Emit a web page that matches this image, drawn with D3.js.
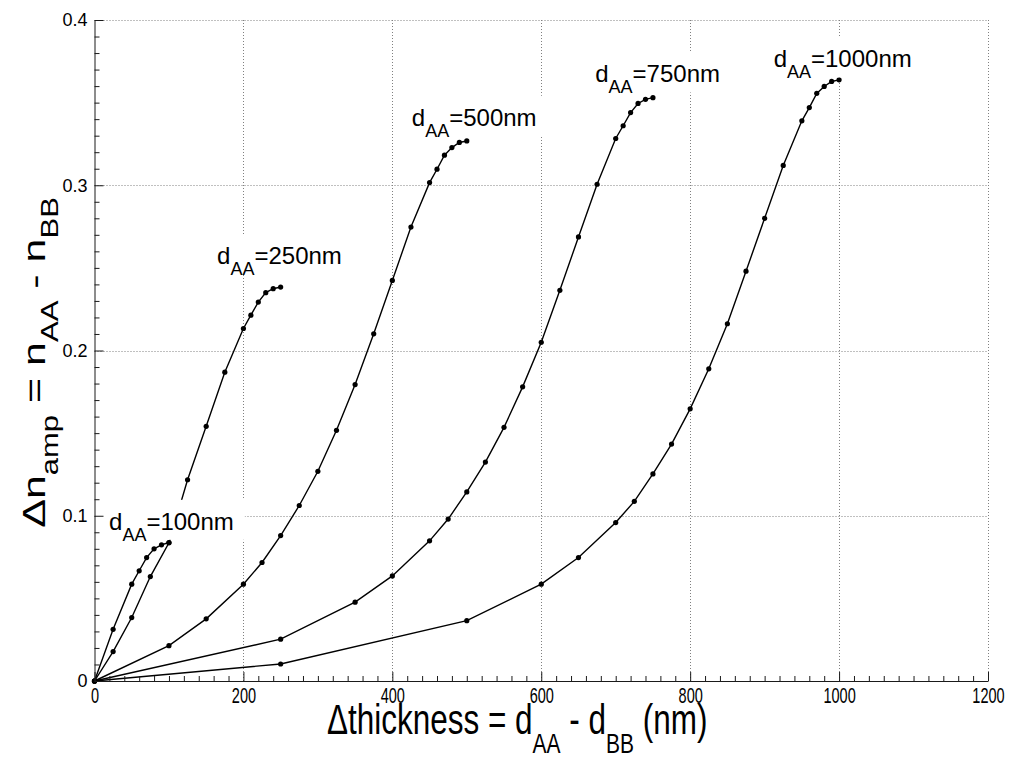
<!DOCTYPE html>
<html><head><meta charset="utf-8">
<script src="https://cdn.jsdelivr.net/npm/d3@7"></script>
<style>
body{margin:0;background:#fff}
svg{display:block}
text{font-family:"Liberation Sans",Arial,Helvetica,sans-serif;fill:#000}
</style></head>
<body><svg id="chart" width="1013" height="760"></svg>
<script>
// ---- data (Δthickness in nm, Δn_amp) ----
const thick100 = [0,25,50,60,70,80,90,100];
const dn100    = [0,0.0313,0.0586,0.0667,0.0747,0.0800,0.0824,0.0838];
const thick250 = [0,25,50,75,100,125,150,175,200,210,220,230,240,250];
const dn250    = [0,0.0178,0.0384,0.0632,0.0836,0.1218,0.1541,0.1869,0.2133,0.2214,0.2293,0.2350,0.2374,0.2384];
const thick500 = [0,100,150,200,225,250,275,300,325,350,375,400,425,450,460,470,480,490,500];
const dn500    = [0,0.0214,0.0376,0.0586,0.0717,0.0880,0.1062,0.1269,0.1517,0.1794,0.2101,0.2424,0.2747,0.3016,0.3097,0.3182,0.3228,0.3259,0.3268];
const thick750 = [0,250,350,400,450,475,500,525,550,575,600,625,650,675,700,710,720,730,740,750];
const dn750    = [0,0.0253,0.0477,0.0636,0.0848,0.0980,0.1144,0.1325,0.1535,0.1780,0.2050,0.2364,0.2687,0.3006,0.3283,0.3360,0.3440,0.3495,0.3520,0.3530];
const thick1000= [0,250,500,600,650,700,725,750,775,800,825,850,875,900,925,950,960,970,980,990,1000];
const dn1000   = [0,0.0103,0.0365,0.0586,0.0747,0.0959,0.1087,0.1253,0.1434,0.1647,0.1889,0.2162,0.2480,0.2800,0.3120,0.3390,0.3470,0.3556,0.3598,0.3628,0.3638];

const seriesNames = ["100","250","500","750","1000"];
// label anchors in data units (left of "d", baseline)
const labelAtX = [19.5, 164.6, 426.2, 672.5, 912.1];
const labelAtY = [0.0915, 0.2521, 0.336, 0.3622, 0.3713];

const xMajorTicks = [0,200,400,600,800,1000,1200];
const yMajorTicks = [0,0.1,0.2,0.3,0.4];
const yTickLabels = ["0","0.1","0.2","0.3","0.4"];

// ---- layout ----
const svg = d3.select("#chart");
const x = d3.scaleLinear().domain([0,1200]).range([94.5,988]);
const y = d3.scaleLinear().domain([0,0.4]).range([681,20]);

const series = [
  {name:seriesNames[0], xs:thick100, ys:dn100},
  {name:seriesNames[1], xs:thick250, ys:dn250},
  {name:seriesNames[2], xs:thick500, ys:dn500},
  {name:seriesNames[3], xs:thick750, ys:dn750},
  {name:seriesNames[4], xs:thick1000, ys:dn1000}
].map(s => ({name:s.name, pts:s.xs.map((v,i)=>[v,s.ys[i]])}));

// grid
const grid = svg.append("g").attr("stroke","#808080").attr("stroke-width",1).attr("stroke-dasharray","1,2");
grid.selectAll("line.v").data(xMajorTicks.slice(1)).join("line")
  .attr("x1",d=>Math.round(x(d))+0.5).attr("x2",d=>Math.round(x(d))+0.5)
  .attr("y1",y(0)).attr("y2",y(0.4));
grid.selectAll("line.h").data(yMajorTicks.slice(1)).join("line")
  .attr("y1",d=>Math.round(y(d))+0.5).attr("y2",d=>Math.round(y(d))+0.5)
  .attr("x1",x(0)).attr("x2",x(1200));

// curves
const line = d3.line().x(d=>x(d[0])).y(d=>y(d[1]));
const cg = svg.append("g");
series.forEach(s=>{
  cg.append("path").attr("d",line(s.pts)).attr("fill","none")
    .attr("stroke","#000").attr("stroke-width",1.4);
  cg.selectAll(null).data(s.pts).join("circle")
    .attr("cx",d=>x(d[0])).attr("cy",d=>y(d[1])).attr("r",2.6).attr("fill","#000");
});

// labels with white background
const lg = svg.append("g");
seriesNames.forEach((n,i)=>{
  const g = lg.append("g");
  const rect = g.append("rect").attr("fill","#fff");
  const t = g.append("text").attr("x",x(labelAtX[i])).attr("y",y(labelAtY[i]))
    .style("font-size","24px");
  t.append("tspan").text("d");
  t.append("tspan").attr("dy",11).style("font-size","18px").text("AA");
  t.append("tspan").attr("dy",-11).text("=" + n + "nm");
  const bb = t.node().getBBox();
  rect.attr("x",bb.x-13).attr("width",bb.width+24)
      .attr("y",y(labelAtY[i])-30).attr("height",40);
});

// axes
const axisColor = "#1a1a1a";
const xMinor = d3.range(0,1201,20).filter(v=>v%200!==0);
const yMinor = d3.range(1,40).map(v=>v/100).filter((v,i)=>(i+1)%10!==0);

const xAx = svg.append("g").attr("transform",`translate(0,${y(0)})`)
  .call(d3.axisBottom(x).tickValues(xMajorTicks).tickSizeInner(-9).tickSizeOuter(0).tickPadding(6).tickFormat(d3.format("d")));
xAx.append("g").call(d3.axisBottom(x).tickValues(xMinor).tickSizeInner(-5).tickSizeOuter(0).tickFormat(""))
  .select(".domain").remove();
xAx.selectAll(".tick text").filter(function(){return this.textContent!=="";})
  .style("font-size","22px").style("font-family","Liberation Sans, Arial, sans-serif")
  .attr("transform","scale(0.66,1)");

const yAx = svg.append("g").attr("transform",`translate(${x(0)},0)`)
  .call(d3.axisLeft(y).tickValues(yMajorTicks).tickSizeInner(-9).tickSizeOuter(0).tickPadding(7)
    .tickFormat((d,i)=>yTickLabels[i]));
yAx.append("g").call(d3.axisLeft(y).tickValues(yMinor).tickSizeInner(-5).tickSizeOuter(0).tickFormat(""))
  .select(".domain").remove();
yAx.selectAll(".tick text").style("font-size","18px").style("font-family","Liberation Sans, Arial, sans-serif");

svg.selectAll(".domain, .tick line").attr("stroke",axisColor);

// axis titles
const xt = svg.append("text")
  .attr("transform",`translate(${x(600)-24},734) scale(0.75,1)`)
  .attr("text-anchor","middle").style("font-size","42px");
xt.append("tspan").text("\u0394thickness = d");
xt.append("tspan").attr("dy",19).style("font-size","28px").text("AA");
xt.append("tspan").attr("dy",-19).text(" - d");
xt.append("tspan").attr("dy",19).style("font-size","28px").text("BB");
xt.append("tspan").attr("dy",-19).text(" (nm)");

const yt = svg.append("text")
  .attr("transform",`translate(45,${y(0.2)+12}) rotate(-90) scale(1,0.75)`)
  .attr("text-anchor","middle").style("font-size","43px");
yt.append("tspan").text("\u0394n");
yt.append("tspan").attr("dy",17).style("font-size","31px").text("amp");
yt.append("tspan").attr("dy",-17).text(" = n");
yt.append("tspan").attr("dy",17).style("font-size","31px").text("AA");
yt.append("tspan").attr("dy",-17).text(" - n");
yt.append("tspan").attr("dy",17).style("font-size","31px").text("BB");
</script>
</body></html>
